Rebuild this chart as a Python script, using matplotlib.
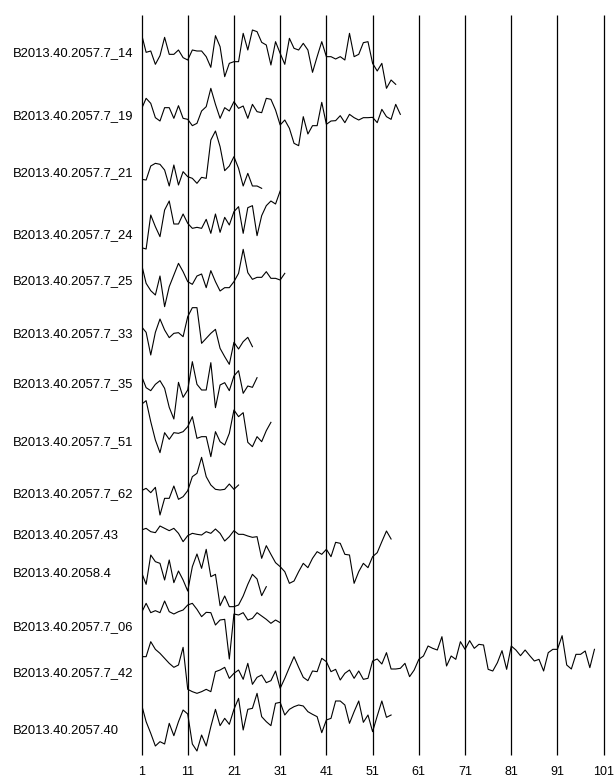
import matplotlib
matplotlib.use("Agg")
import matplotlib.pyplot as plt
import matplotlib.transforms as mtransforms

# sample names, top to bottom
names = ["B2013.40.2057.7_14", "B2013.40.2057.7_19", "B2013.40.2057.7_21",
         "B2013.40.2057.7_24", "B2013.40.2057.7_25", "B2013.40.2057.7_33",
         "B2013.40.2057.7_35", "B2013.40.2057.7_51", "B2013.40.2057.7_62",
         "B2013.40.2057.43", "B2013.40.2058.4", "B2013.40.2057.7_06",
         "B2013.40.2057.7_42", "B2013.40.2057.40"]

# series values (downward units), one point per position starting at 1
s14 = [42, 97, 93, 133, 107, 52, 103, 103, 90, 113, 120, 90, 93, 93, 110, 142, 47, 80, 170, 130,
       125, 125, 40, 90, 30, 35, 67, 75, 135, 65, 100, 133, 55, 85, 90, 70, 90, 157, 110, 65,
       110, 110, 117, 110, 120, 40, 110, 103, 68, 65, 130, 153, 130, 205, 180, 193]
s19 = [72, 40, 55, 98, 108, 68, 68, 100, 62, 100, 103, 122, 115, 78, 65, 10, 58, 100, 68, 78,
       50, 70, 63, 100, 58, 80, 83, 40, 43, 75, 120, 105, 130, 175, 182, 95, 147, 122, 122, 52,
       118, 108, 107, 92, 113, 88, 98, 105, 98, 98, 97, 113, 73, 95, 103, 58, 88]
s21 = [148, 150, 108, 100, 103, 120, 168, 105, 165, 125, 140, 145, 160, 142, 145, 30, 3, 50, 122, 108,
       80, 115, 168, 130, 168, 168, 175]
s24 = [188, 192, 90, 125, 155, 75, 48, 117, 117, 87, 115, 130, 127, 130, 103, 145, 87, 142, 97, 120,
       80, 65, 145, 68, 62, 152, 92, 62, 48, 57, 18]
s25 = [72, 130, 152, 165, 108, 200, 140, 105, 70, 95, 125, 133, 108, 102, 143, 92, 125, 153, 143, 143,
       125, 100, 28, 98, 118, 112, 112, 95, 115, 115, 120, 100]
s33 = [95, 112, 180, 112, 72, 105, 128, 115, 113, 125, 65, 38, 38, 145, 130, 115, 103, 160, 185, 208,
       142, 162, 140, 127, 155]
s35 = [78, 113, 122, 103, 92, 115, 172, 207, 97, 142, 120, 35, 103, 120, 120, 38, 173, 105, 98, 122,
       78, 62, 130, 108, 112, 83]
s51 = [43, 32, 95, 150, 188, 128, 148, 128, 130, 125, 110, 80, 145, 140, 140, 200, 125, 155, 165, 130,
       60, 80, 68, 157, 170, 140, 155, 122, 97]
s62 = [122, 115, 128, 112, 195, 145, 145, 108, 148, 140, 122, 80, 70, 22, 80, 105, 118, 120, 118, 102,
       118, 105]
s43 = [45, 40, 50, 53, 33, 40, 47, 40, 55, 80, 62, 55, 58, 60, 50, 55, 42, 55, 78, 65,
       47, 58, 58, 63, 67, 65, 130, 92, 118, 143, 155, 170, 205, 198, 170, 145, 158, 130, 110, 118,
       103, 125, 82, 85, 118, 120, 205, 170, 145, 158, 125, 113, 80, 48, 72]
s2058 = [172, 208, 120, 140, 145, 195, 135, 203, 168, 195, 228, 155, 117, 160, 103, 185, 178, 272, 243, 275,
         275, 270, 243, 208, 178, 192, 242, 215]
s06 = [68, 40, 68, 62, 68, 33, 65, 72, 65, 60, 45, 40, 58, 80, 67, 68, 105, 90, 88, 207,
       72, 75, 68, 90, 85, 68, 78, 88, 100, 90, 98]
s42 = [200, 200, 155, 178, 190, 205, 220, 232, 225, 172, 298, 305, 310, 305, 298, 305, 245, 240, 232, 265,
       250, 240, 268, 220, 283, 262, 255, 278, 272, 243, 295, 265, 232, 200, 232, 262, 272, 243, 245, 205,
       215, 245, 238, 270, 250, 240, 265, 243, 268, 265, 213, 207, 222, 188, 237, 237, 235, 220, 260, 240,
       208, 198, 168, 175, 180, 140, 228, 198, 208, 155, 178, 152, 175, 163, 165, 238, 243, 218, 182, 238,
       168, 180, 197, 180, 197, 213, 208, 243, 188, 178, 178, 137, 225, 237, 193, 193, 183, 233, 178]
s40 = [343, 395, 430, 468, 455, 462, 400, 437, 395, 360, 372, 462, 483, 435, 468, 410, 358, 407, 385, 403,
       358, 325, 420, 358, 355, 310, 380, 395, 407, 340, 337, 375, 358, 350, 345, 348, 365, 373, 380, 428,
       390, 385, 333, 333, 345, 400, 365, 333, 397, 375, 425, 378, 333, 382, 375]

series = [s14, s19, s21, s24, s25, s33, s35, s51, s62, s43, s2058, s06, s42, s40]
baselines = [15, 210, 345, 510, 675, 840, 1005, 1125, 1305, 1500, 1500, 1725, 1725, 1725]
label_pos = [115, 303, 474, 660, 798, 957, 1107, 1281, 1437, 1563, 1677, 1836, 1974, 2148]

xticks = list(range(1, 102, 10))

fig = plt.figure(figsize=(6.15, 7.78), dpi=100)
ax = fig.add_axes([141.5 / 615, 23 / 778, (603.7 - 141.5) / 615, 740 / 778])

for vals, base in zip(series, baselines):
    xs = range(1, len(vals) + 1)
    ax.plot(xs, [base + v for v in vals], color="black", lw=0.8)

ax.vlines(xticks, 0, 2220, color="black", lw=0.9, clip_on=False)

ax.set_xlim(1, 101)
ax.set_ylim(2220, 0)
ax.set_xticks(xticks)
ax.set_xticklabels([str(t) for t in xticks], fontsize=9, family="Liberation Sans")
ax.tick_params(axis="x", length=0, pad=8)
ax.set_yticks([])
for sp in ax.spines.values():
    sp.set_visible(False)

trans = mtransforms.blended_transform_factory(fig.transFigure, ax.transData)
for name, ly in zip(names, label_pos):
    ax.text(13 / 615, ly, name, transform=trans, ha="left", va="center",
            fontsize=9.4, family="Liberation Sans")

fig.savefig("out.png", dpi=100)
